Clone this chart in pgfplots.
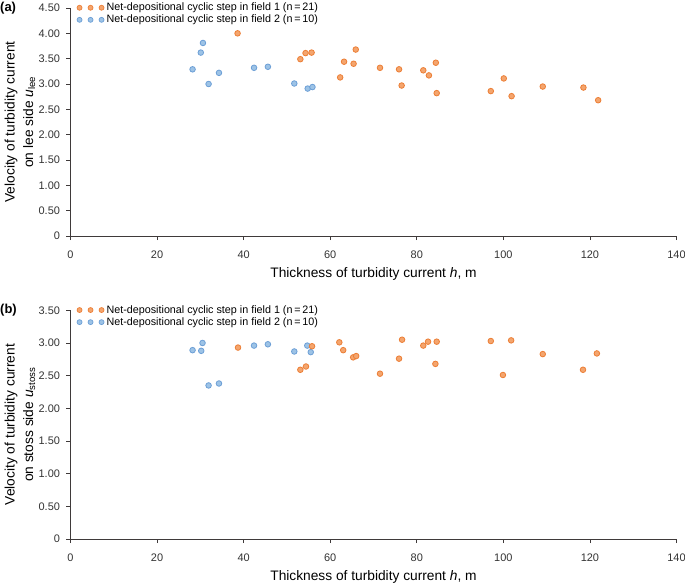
\documentclass[border=0pt]{standalone}
\usepackage{fontspec}
\setmainfont{Liberation Sans}
\usepackage{pgfplots}
\pgfplotsset{compat=1.18}
\usepackage{pgfplotstable}

\definecolor{orF}{HTML}{F4A56E}
\definecolor{orE}{HTML}{EC7E35}
\definecolor{blF}{HTML}{9DC3E6}
\definecolor{blE}{HTML}{6C9FD6}
\definecolor{axc}{HTML}{3F3A3A}
\definecolor{tkc}{HTML}{333333}

\pgfplotstableread{
x y
28.2 3.29
30.1 3.62
30.6 3.81
31.9 3.00
34.3 3.22
42.4 3.32
45.6 3.34
51.7 3.01
54.8 2.91
55.9 2.94
}\leeB

\pgfplotstableread{
x y
38.6 4.00
53.1 3.49
54.3 3.61
55.7 3.62
62.3 3.13
63.2 3.44
65.4 3.40
65.9 3.68
71.5 3.32
75.9 3.29
76.5 2.97
81.5 3.27
82.8 3.17
84.4 3.42
84.6 2.82
97.1 2.86
100.1 3.11
101.9 2.76
109.1 2.95
118.5 2.93
121.9 2.68
}\leeA

\pgfplotstableread{
x y
28.2 2.89
30.2 2.88
30.5 3.00
31.9 2.35
34.3 2.38
42.4 2.96
45.6 2.98
51.7 2.87
54.7 2.96
55.5 2.86
}\stossB

\pgfplotstableread{
x y
38.7 2.93
53.1 2.59
54.4 2.64
55.8 2.95
62.1 3.01
63.0 2.89
65.3 2.78
66.0 2.80
71.5 2.53
75.9 2.76
76.6 3.05
81.5 2.96
82.6 3.02
84.3 2.68
84.6 3.02
97.1 3.03
99.9 2.51
101.8 3.04
109.1 2.83
118.4 2.59
121.6 2.84
}\stossA

\pgfplotsset{
  panel/.style={
    scale only axis, width=606bp,
    anchor=origin,
    xmin=0, xmax=140, ymin=0,
    xtick={0,20,...,140},
    axis lines*=left,
    axis line style={axc, line width=0.8bp},
    tick style={axc, line width=0.8bp},
    tick align=outside, major tick length=4bp,
    tick label style={font=\fontsize{11}{13}\selectfont, text=tkc},
    /pgf/number format/assume math mode=true,
    xticklabel style={anchor=center, yshift=-14.7bp},
    yticklabel style={anchor=east, xshift=-3bp},
    clip=false,
    xlabel={Thickness of turbidity current \textit{h}, m},
    xlabel style={font=\fontsize{13.8}{16}\selectfont, at={(axis description cs:0.5,0)}, anchor=center, yshift=-38bp},
    ylabel style={font=\fontsize{13.8}{18.5}\selectfont, align=center, at={(axis description cs:-0.0833,0.5)}, anchor=center},
    legend style={at={(axis description cs:0,1)}, anchor=north west, xshift=6bp, yshift=6.5bp,
      draw=none, fill=none, inner sep=0pt, row sep=0pt,
      font=\fontsize{10.8}{12}\selectfont,
      nodes={inner ysep=1.4bp, inner xsep=2.2bp}},
    legend cell align=left,
    reverse legend,
  },
  orpl/.style={only marks, mark=*, mark size=2.8bp,
    mark options={draw=orE, fill=orF, line width=0.8bp},
    legend image code/.code={\draw[orE, fill=orF, line width=0.7bp] (3bp,0) circle[radius=2.5bp] (14bp,0) circle[radius=2.5bp] (25bp,0) circle[radius=2.5bp];}},
  blpl/.style={only marks, mark=*, mark size=2.8bp,
    mark options={draw=blE, fill=blF, line width=0.8bp},
    legend image code/.code={\draw[blE, fill=blF, line width=0.7bp] (3bp,0) circle[radius=2.5bp] (14bp,0) circle[radius=2.5bp] (25bp,0) circle[radius=2.5bp];}},
}

\begin{document}
\begin{tikzpicture}
\path[use as bounding box] (-70.5bp,-350bp) rectangle (614.5bp,236bp);

\begin{axis}[panel, at={(0,0)}, height=228bp, ymax=4.5,
  ytick={0,0.5,1,1.5,2,2.5,3,3.5,4,4.5},
  yticklabels={0,0.50,1.00,1.50,2.00,2.50,3.00,3.50,4.00,4.50},
  ylabel={Velocity of turbidity current\\on lee side \textit{u}\textsubscript{lee}}]
\addplot[blpl] table[x=x,y=y] {\leeB};
\addlegendentry{Net-depositional cyclic step in field 2 (n\,=\,10)}
\addplot[orpl] table[x=x,y=y] {\leeA};
\addlegendentry{Net-depositional cyclic step in field 1 (n\,=\,21)}
\node[anchor=west, inner sep=0pt, font=\bfseries\fontsize{13}{15}\selectfont] at (axis description cs:-0.1163,1) {(a)};
\end{axis}

\begin{axis}[panel, at={(0,-303bp)}, height=228.7bp, ymax=3.5,
  ytick={0,0.5,1,1.5,2,2.5,3,3.5},
  yticklabels={0,0.50,1.00,1.50,2.00,2.50,3.00,3.50},
  ylabel={Velocity of turbidity current\\on stoss side \textit{u}\textsubscript{stoss}}]
\addplot[blpl] table[x=x,y=y] {\stossB};
\addlegendentry{Net-depositional cyclic step in field 2 (n\,=\,10)}
\addplot[orpl] table[x=x,y=y] {\stossA};
\addlegendentry{Net-depositional cyclic step in field 1 (n\,=\,21)}
\node[anchor=west, inner sep=0pt, font=\bfseries\fontsize{13}{15}\selectfont] at (axis description cs:-0.1163,1) {(b)};
\end{axis}
\end{tikzpicture}
\end{document}
